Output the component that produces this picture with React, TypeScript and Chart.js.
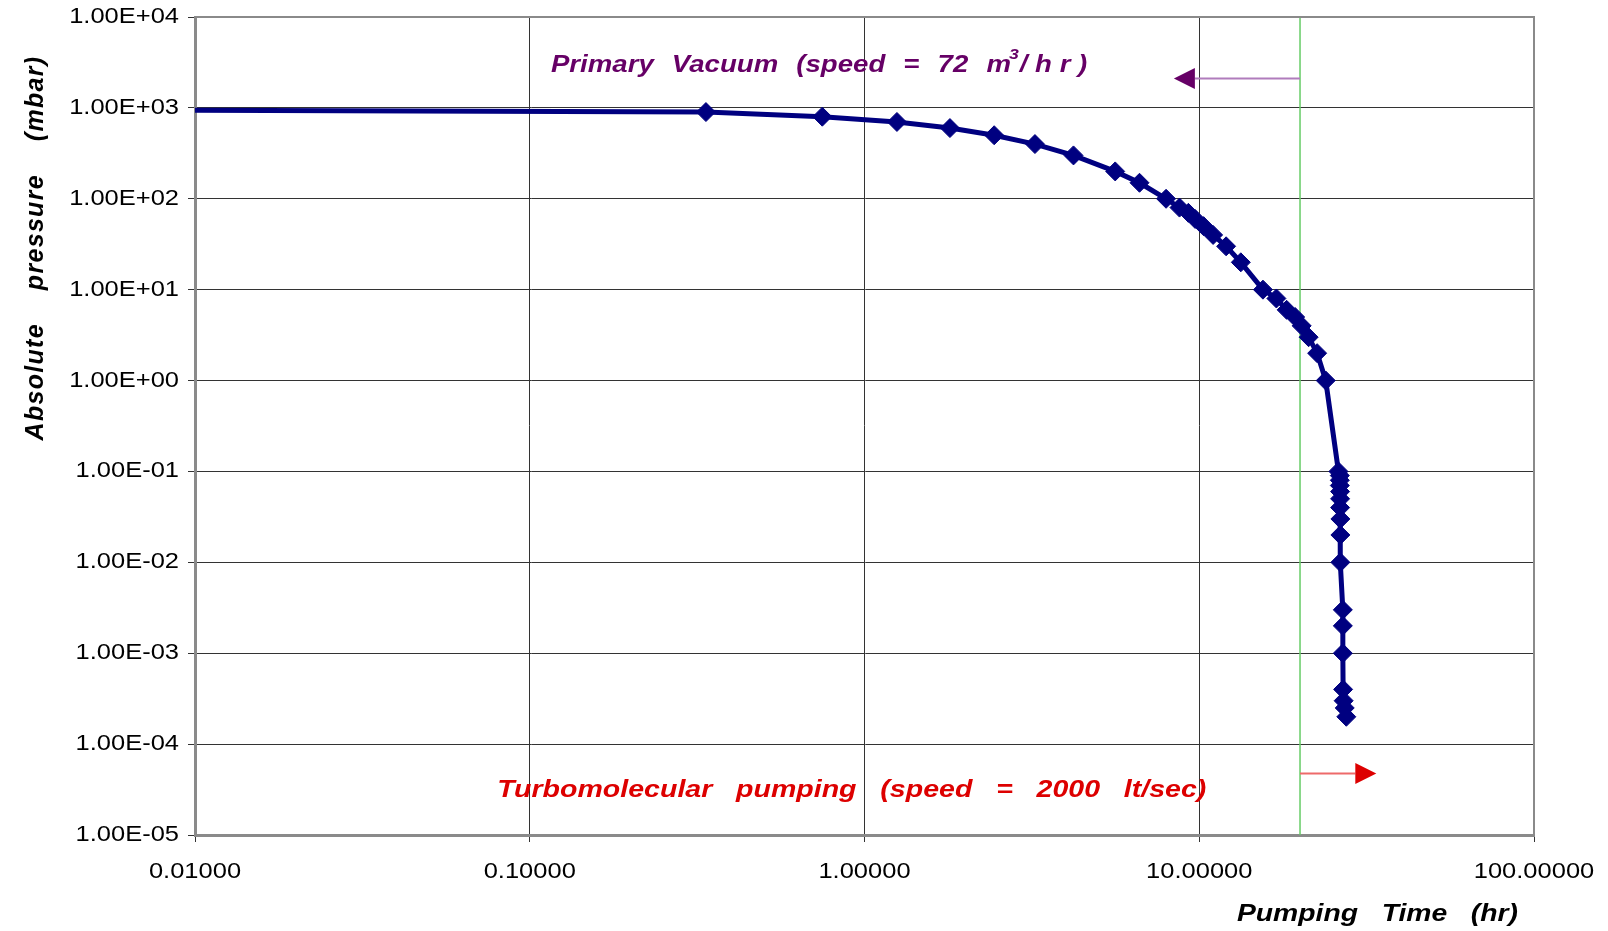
import { useEffect, useRef } from "react";
import { Chart, registerables } from "chart.js";

Chart.register(...registerables);

// Pump-down record: elapsed pumping time (hr) vs. absolute pressure (mbar)
const pumpingTimeHr = [
  0.01, 0.336, 0.748, 1.25, 1.8, 2.44, 3.23, 4.21, 5.61, 6.63, 7.96, 8.73, 9.28, 9.72, 10.3,
  11.0, 12.03, 13.31, 15.5, 17.0, 18.24, 19.34, 20.23, 21.22, 22.5, 23.87, 26.05, 26.3, 26.3,
  26.3, 26.35, 26.35, 26.35, 26.4, 26.4, 26.4, 26.85, 26.85, 26.85, 26.9, 27.0, 27.2, 27.5,
];
const pressureMbar = [
  940, 900, 800, 700, 600, 500, 400, 300, 200, 150, 100, 80, 70, 60, 50, 40, 30, 20, 10, 8, 6,
  5, 4, 3, 2, 1, 0.1, 0.09, 0.08, 0.07, 0.06, 0.05, 0.04, 0.03, 0.02, 0.01, 0.003, 0.002, 0.001,
  0.0004, 0.0003, 0.00025, 0.0002,
];

// Axis decades
const timeTicks = [0.01, 0.1, 1, 10, 100];
const pressureTicks = [1e4, 1e3, 1e2, 1e1, 1, 1e-1, 1e-2, 1e-3, 1e-4, 1e-5];

// Switch-over from primary pump to turbomolecular pump
const switchOverHr = 20;
const primaryArrow = { pressure: 2100, tipHr: 8.4 };
const turboArrow = { pressure: 4.76e-5, tipHr: 33.8 };
const primaryNote = { hr: 0.1157, pressure: 2938 };
const turboNote = { hr: 0.0799, pressure: 3.12e-5 };
const primaryWords = ["Primary", "Vacuum", "(speed", "=", "72", "m"];

const FONT = '"Liberation Sans", Arial, sans-serif';
const SX = 1.18;

function fmtTime(v: number) {
  return v.toFixed(5);
}
function fmtPressure(v: number) {
  const e = Math.round(Math.log10(v));
  const sign = e < 0 ? "-" : "+";
  return `1.00E${sign}${String(Math.abs(e)).padStart(2, "0")}`;
}

function wideText(
  ctx: CanvasRenderingContext2D,
  text: string,
  x: number,
  y: number,
  font: string,
  color: string,
  align: "left" | "right" | "center",
  sx = SX
) {
  ctx.save();
  ctx.font = font;
  ctx.fillStyle = color;
  ctx.textBaseline = "middle";
  ctx.textAlign = "left";
  const w = ctx.measureText(text).width * sx;
  const left = align === "left" ? x : align === "right" ? x - w : x - w / 2;
  ctx.translate(left, y);
  ctx.scale(sx, 1);
  ctx.fillText(text, 0, 0);
  ctx.restore();
  return w;
}

function arrow(
  ctx: CanvasRenderingContext2D,
  fromX: number,
  y: number,
  tipX: number,
  lineColor: string,
  headColor: string
) {
  const dir = Math.sign(tipX - fromX);
  const headLen = 21;
  const half = 10.5;
  const baseX = tipX - dir * headLen;
  ctx.save();
  ctx.strokeStyle = lineColor;
  ctx.lineWidth = 2;
  ctx.beginPath();
  ctx.moveTo(fromX, y);
  ctx.lineTo(baseX, y);
  ctx.stroke();
  ctx.fillStyle = headColor;
  ctx.beginPath();
  ctx.moveTo(tipX, y);
  ctx.lineTo(baseX, y - half);
  ctx.lineTo(baseX, y + half);
  ctx.closePath();
  ctx.fill();
  ctx.restore();
}

const notesPlugin = {
  id: "pumpdownNotes",
  beforeDatasetsDraw(chart: any) {
    const { ctx, chartArea, scales } = chart;
    const x = scales.x;
    const y = scales.y;
    const gx = x.getPixelForValue(switchOverHr);
    ctx.save();
    ctx.strokeStyle = "#66cc66";
    ctx.lineWidth = 1.5;
    ctx.beginPath();
    ctx.moveTo(gx, chartArea.top);
    ctx.lineTo(gx, chartArea.bottom);
    ctx.stroke();
    ctx.restore();
    arrow(ctx, gx, y.getPixelForValue(primaryArrow.pressure), x.getPixelForValue(primaryArrow.tipHr), "#b07cbc", "#660066");
    arrow(ctx, gx, y.getPixelForValue(turboArrow.pressure), x.getPixelForValue(turboArrow.tipHr), "#ee6a6a", "#dd0000");
  },
  afterDraw(chart: any) {
    const { ctx, chartArea, scales } = chart;
    const x = scales.x;
    const y = scales.y;

    // right and top frame
    ctx.save();
    ctx.strokeStyle = "#8a8a8a";
    ctx.lineWidth = 2;
    ctx.beginPath();
    ctx.moveTo(chartArea.left, chartArea.top);
    ctx.lineTo(chartArea.right, chartArea.top);
    ctx.lineTo(chartArea.right, chartArea.bottom);
    ctx.stroke();
    ctx.restore();

    const tickFont = `21.6px ${FONT}`;
    pressureTicks.forEach((v) => {
      wideText(ctx, fmtPressure(v), chartArea.left - 16, y.getPixelForValue(v), tickFont, "#000", "right");
    });
    timeTicks.forEach((v) => {
      wideText(ctx, fmtTime(v), x.getPixelForValue(v), chartArea.bottom + 37, tickFont, "#000", "center");
    });

    // axis titles
    wideText(ctx, "Pumping   Time   (hr)", chartArea.right - 16, chartArea.bottom + 79, `italic bold 24px ${FONT}`, "#000", "right");

    ctx.save();
    ctx.translate(36, chartArea.top + 231);
    ctx.rotate(-Math.PI / 2);
    ctx.font = `italic bold 25px ${FONT}`;
    (ctx as any).letterSpacing = "1.3px";
    ctx.fillStyle = "#000";
    ctx.textAlign = "center";
    ctx.textBaseline = "middle";
    ctx.fillText("Absolute    pressure    (mbar)", 0, 0);
    ctx.restore();

    // primary pumping note, word by word, with m³ superscript
    const noteFont = `italic bold 23.4px ${FONT}`;
    const supFont = `italic bold 15px ${FONT}`;
    const purple = "#660066";
    const gap = 18.1;
    let px = x.getPixelForValue(primaryNote.hr);
    const py = y.getPixelForValue(primaryNote.pressure);
    primaryWords.forEach((w, i) => {
      px += wideText(ctx, w, px, py, noteFont, purple, "left");
      if (i < primaryWords.length - 1) px += gap;
    });
    px += wideText(ctx, "3", px - 2, py - 10, supFont, purple, "left") - 1;
    wideText(ctx, "/ h r )", px, py, noteFont, purple, "left");

    wideText(
      ctx,
      "Turbomolecular   pumping   (speed   =   2000   lt/sec)",
      x.getPixelForValue(turboNote.hr),
      y.getPixelForValue(turboNote.pressure),
      `italic bold 24.2px ${FONT}`,
      "#dd0000",
      "left"
    );
  },
};

export default function App() {
  const canvasRef = useRef<HTMLCanvasElement>(null);

  useEffect(() => {
    const canvas = canvasRef.current;
    if (!canvas) return;
    const chart = new Chart(canvas, {
      type: "line",
      data: {
        datasets: [
          {
            label: "Pressure",
            data: pumpingTimeHr.map((t, i) => ({ x: t, y: pressureMbar[i] })),
            borderColor: "#000080",
            backgroundColor: "#000080",
            borderWidth: 5,
            pointStyle: "rectRot",
            pointRadius: (c: any) => (c.dataIndex === 0 ? 0 : 9.5),
            pointBorderWidth: 1,
            pointBorderColor: "#000080",
            pointBackgroundColor: "#000080",
            tension: 0,
          },
        ],
      },
      options: {
        animation: false,
        responsive: true,
        maintainAspectRatio: false,
        layout: { padding: { top: 17, right: 74, left: 0, bottom: 0 } },
        plugins: { legend: { display: false }, tooltip: { enabled: false } },
        scales: {
          x: {
            type: "logarithmic",
            min: 0.01,
            max: 100,
            afterBuildTicks: (s: any) => {
              s.ticks = timeTicks.map((v) => ({ value: v }));
            },
            afterFit: (s: any) => {
              s.height = 96;
            },
            ticks: { display: false },
            grid: { color: "#333", lineWidth: 1, tickLength: 7, tickColor: "#333" },
            border: { display: true, color: "#8a8a8a", width: 3 },
          },
          y: {
            type: "logarithmic",
            min: 1e-5,
            max: 1e4,
            afterBuildTicks: (s: any) => {
              s.ticks = pressureTicks.map((v) => ({ value: v }));
            },
            afterFit: (s: any) => {
              s.width = 195;
            },
            ticks: { display: false },
            grid: { color: "#333", lineWidth: 1, tickLength: 7, tickColor: "#333" },
            border: { display: true, color: "#8a8a8a", width: 3 },
          },
        },
      },
      plugins: [notesPlugin],
    });
    return () => chart.destroy();
  }, []);

  return (
    <div style={{ position: "fixed", left: 0, top: 0, width: 1608, height: 931, background: "#fff" }}>
      <canvas ref={canvasRef} />
    </div>
  );
}
